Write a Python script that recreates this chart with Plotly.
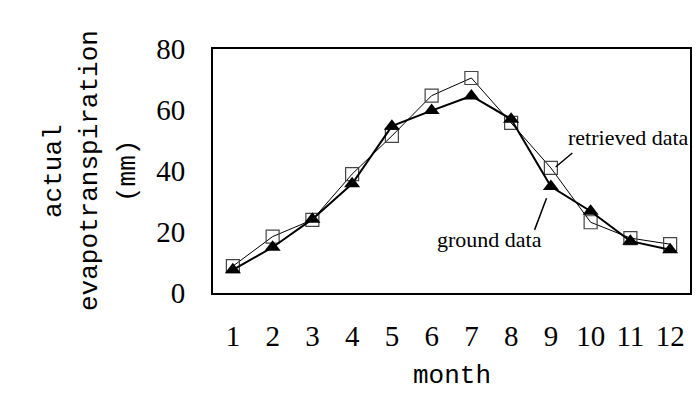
import plotly.graph_objects as go

months = [1, 2, 3, 4, 5, 6, 7, 8, 9, 10, 11, 12]
month_labels = ["1", "2", "3", "4", "5", "6", "7", "8", "9", "10", "11", "12"]
retrieved = [8.8, 18.5, 24.0, 39.0, 51.5, 64.7, 70.5, 55.8, 41.0, 23.2, 18.0, 16.0]
ground = [7.6, 15.0, 24.2, 35.8, 54.7, 59.8, 64.6, 57.0, 34.9, 26.8, 17.0, 14.2]
y_ticks = [0, 20, 40, 60, 80]

serif = "Liberation Serif, Times New Roman, serif"
mono = "Liberation Mono, Courier New, monospace"

fig = go.Figure()
fig.add_trace(go.Scatter(
    x=months, y=retrieved, mode="lines+markers", name="retrieved data",
    line=dict(color="black", width=1),
    marker=dict(symbol="square-open", size=13, color="#444", line=dict(width=1.2, color="#444")),
    cliponaxis=False,
))
fig.add_trace(go.Scatter(
    x=months, y=ground, mode="lines+markers", name="ground data",
    line=dict(color="black", width=2),
    marker=dict(symbol="triangle-up", size=14, color="black"),
    cliponaxis=False,
))

# leader lines for labels
fig.add_shape(type="line", xref="x", yref="y", x0=9.54, y0=45.9, x1=9.12, y1=41.3,
              line=dict(color="black", width=1.5))
fig.add_shape(type="line", xref="x", yref="y", x0=8.59, y0=20.7, x1=8.89, y1=31.1,
              line=dict(color="black", width=1.5))
fig.add_annotation(x=9.39, y=51.1, xref="x", yref="y", text="retrieved data", showarrow=False,
                   xanchor="left", yanchor="middle", font=dict(family=serif, size=22, color="black"))
fig.add_annotation(x=7.46, y=17.4, xref="x", yref="y", text="ground data", showarrow=False,
                   xanchor="center", yanchor="middle", font=dict(family=serif, size=22, color="black"))

# axis titles as annotations (paper coords relative to plot area 213..690 x 49..293)
for txt, xpx in [("actual", 54), ("evapotranspiration", 90), ("(mm)", 128)]:
    fig.add_annotation(x=(xpx - 213) / 477, y=0.5, xref="paper", yref="paper", text=txt,
                       showarrow=False, textangle=-90, xanchor="center", yanchor="middle",
                       font=dict(family=mono, size=26, color="black"))
fig.add_annotation(x=0.5, y=(293 - 376) / 244, xref="paper", yref="paper", text="month",
                   showarrow=False, xanchor="center", yanchor="middle",
                   font=dict(family=mono, size=26, color="black"))

fig.update_layout(
    width=697, height=398,
    margin=dict(l=213, r=7, t=49, b=105, autoexpand=False),
    paper_bgcolor="white", plot_bgcolor="white",
    showlegend=False,
    xaxis=dict(
        range=[0.5, 12.5], tickmode="array", tickvals=months, ticktext=month_labels,
        showgrid=False, zeroline=False, showline=True, linecolor="black", linewidth=2, mirror=True,
        ticks="", ticklabelstandoff=16, automargin=False,
        tickfont=dict(family=serif, size=29, color="black"),
    ),
    yaxis=dict(
        range=[0, 80], tickmode="array", tickvals=y_ticks,
        showgrid=False, zeroline=False, showline=True, linecolor="black", linewidth=2, mirror=True,
        ticks="", ticklabelstandoff=20, automargin=False,
        tickfont=dict(family=serif, size=29, color="black"),
    ),
)

fig.write_html("out.html", config={"displayModeBar": False},
               post_script="document.body.style.margin='0';document.body.style.padding='0';")
